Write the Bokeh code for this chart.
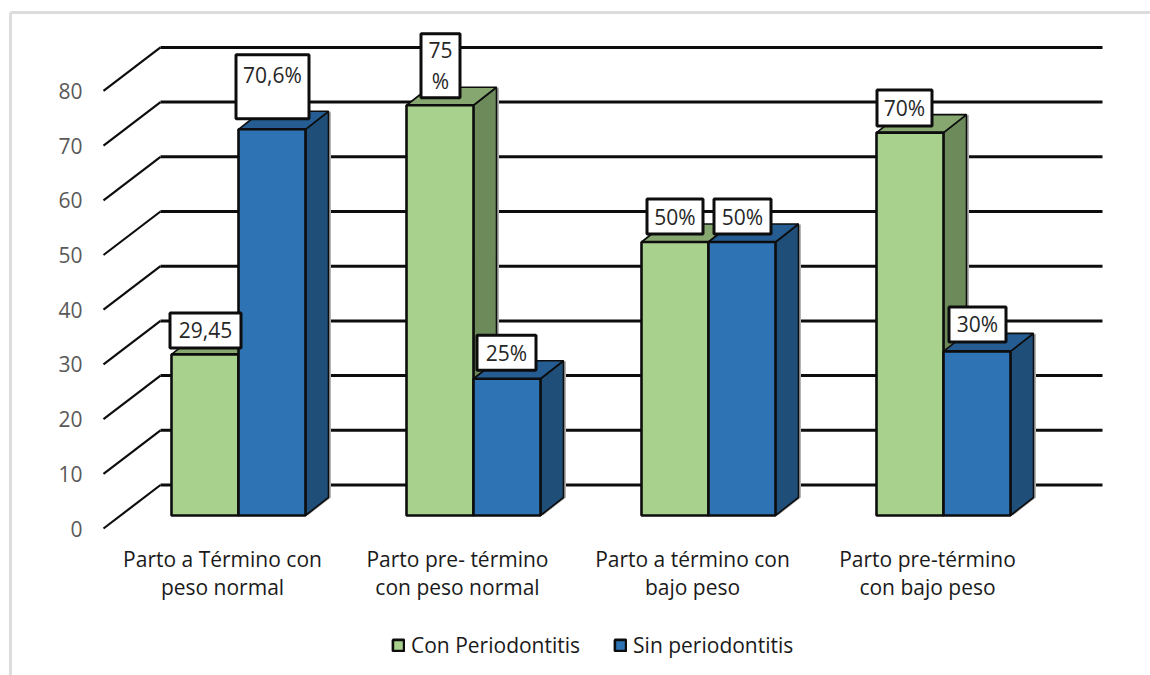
from bokeh.core.properties import value
from bokeh.embed import file_html
from bokeh.models import (ColumnDataSource, FixedTicker, Legend, LegendItem, LinearAxis, Range1d)
from bokeh.plotting import figure
from bokeh.resources import INLINE

# Chart data
categories = ["Parto a Término con\npeso normal",
              "Parto pre- término\ncon peso normal",
              "Parto a término con\nbajo peso",
              "Parto pre-término\ncon bajo peso"]
con_values = [29.45, 75, 50, 70]
sin_values = [70.6, 25, 50, 30]
con_labels = ["29,45", "75\n%", "50%", "70%"]
sin_labels = ["70,6%", "25%", "50%", "30%"]
y_ticks = [0, 10, 20, 30, 40, 50, 60, 70, 80]
series_names = ["Con Periodontitis", "Sin periodontitis"]

# Layout of the page, in pixels
W, H = 1150, 675
GROUP_PX, GROUP0_PX = 235, 238
BASE_PX, UNIT_PX = 515, 5.47
BAR_PX, DEPTH_X_PX, DEPTH_Y_PX = 67, 23, 18
WALL_BASE_PX, TICK_BASE_PX = 484.5, 528
FONT_NAME = "Open Sans"
FONT = value(FONT_NAME)
FONT_SIZE = "21px"
INK = "#0d0d0d"


def xd(px):
    return (px - GROUP0_PX) / GROUP_PX


def yd(px):
    return (BASE_PX - px) / UNIT_PX


p = figure(width=W, height=H, output_backend="svg", toolbar_location=None,
           x_axis_type=None, y_axis_type=None, min_border=0,
           x_range=Range1d(xd(0), xd(W)), y_range=Range1d(yd(H), yd(0)),
           outline_line_color=None, background_fill_color="white")
p.grid.visible = False

# Extra scales for the value labels and the category labels
p.extra_y_ranges = {"tick": Range1d((TICK_BASE_PX - H) / UNIT_PX, TICK_BASE_PX / UNIT_PX)}
p.extra_x_ranges = {"cat": Range1d((0 - 222) / GROUP_PX, (W - 222) / GROUP_PX)}

# Frame around the chart area
p.segment(x0=[xd(10), xd(10)], y0=[yd(12), yd(12)], x1=[xd(W), xd(10)], y1=[yd(12), yd(H)],
          line_color="#dcdcdc", line_width=3)

# Back wall grid lines and the diagonal floor lines leading to the value labels
wall_shift = (BASE_PX - WALL_BASE_PX) / UNIT_PX
tick_shift = (TICK_BASE_PX - BASE_PX) / UNIT_PX
wall_y = [v + wall_shift for v in y_ticks]
n = len(y_ticks)
p.segment(x0=[xd(160)] * n, y0=wall_y, x1=[xd(1102)] * n, y1=wall_y,
          line_color=INK, line_width=3)
p.segment(x0=[xd(103)] * n, y0=[v - tick_shift for v in y_ticks],
          x1=[xd(160)] * n, y1=wall_y, line_color=INK, line_width=2.2)

bar_w = BAR_PX / GROUP_PX
dx = DEPTH_X_PX / GROUP_PX
dy = DEPTH_Y_PX / UNIT_PX
shadow_dx = 2.5 / GROUP_PX


def draw_series(values, offset, front, side, top):
    """Draw one series of pseudo 3D columns: shadow, side and top faces, then the front."""
    xs = [i + offset for i in range(len(values))]
    side_x = [[x + bar_w / 2, x + bar_w / 2 + dx, x + bar_w / 2 + dx, x + bar_w / 2] for x in xs]
    side_y = [[0, dy, v + dy, v] for v in values]
    top_x = [[x - bar_w / 2, x - bar_w / 2 + dx, x + bar_w / 2 + dx, x + bar_w / 2] for x in xs]
    top_y = [[v, v + dy, v + dy, v] for v in values]
    p.patches([[sx + shadow_dx for sx in row] for row in side_x], side_y,
              fill_color="#b4b4b4", line_color=None)
    p.patches(side_x, side_y, fill_color=side, line_color=INK, line_width=1.6)
    p.patches(top_x, top_y, fill_color=top, line_color=INK, line_width=1.6)
    src = ColumnDataSource(dict(x=xs, top=values))
    return p.vbar(x="x", top="top", bottom=0, width=bar_w, source=src, fill_color=front,
                  line_color=INK, line_width=2.6)


green = draw_series(con_values, -bar_w / 2, "#a9d18e", "#6d8a5a", "#87a771")
blue = draw_series(sin_values, bar_w / 2, "#2e74b5", "#1f4e79", "#255c91")

# Data labels: boxed text placed relative to each column's top, sizes in pixels
label_specs = [
    # series value, text, box left, box right, box height, gap above the column top, text shift
    (con_values[0], con_labels[0], 169.5, 240.5, 35, 6.5, 0),
    (sin_values[0], sin_labels[0], 235.5, 308.5, 64, 10.5, -12),
    (con_values[1], con_labels[1], 420.5, 459.5, 64, 7.5, 0),
    (sin_values[1], sin_labels[1], 476.5, 535.5, 35, 8.5, 0),
    (con_values[2], con_labels[2], 646.5, 702.5, 35, 8, 0),
    (sin_values[2], sin_labels[2], 713.5, 770.5, 35, 8, 0),
    (con_values[3], con_labels[3], 876.5, 931.5, 36, 6.5, 0),
    (sin_values[3], sin_labels[3], 948.5, 1005.5, 35, 9.5, 0),
]
for val, txt, left, right, height, gap, shift in label_specs:
    cx = xd((left + right) / 2)
    cy = val + (gap + height / 2) / UNIT_PX
    p.rect(x=[cx], y=[cy], width=[right - left], height=[height], width_units="screen",
           height_units="screen", fill_color="white", line_color=INK, line_width=3)
    p.text(x=[cx], y=[cy + (-shift) / UNIT_PX], text=[txt], text_align="center",
           text_baseline="middle", text_font=FONT, text_font_size=FONT_SIZE, text_color="#262626",
           text_line_height=1.1)

# Value axis and category axis, both drawn inside the frame
y_axis = LinearAxis(y_range_name="tick", fixed_location=xd(88), ticker=FixedTicker(ticks=y_ticks),
                    axis_line_color=None, major_tick_line_color=None, minor_tick_line_color=None,
                    major_label_text_font=FONT_NAME, major_label_text_font_size=FONT_SIZE,
                    major_label_text_color="#595959", major_label_standoff=0)
p.add_layout(y_axis, "left")

x_axis = LinearAxis(x_range_name="cat", fixed_location=yd(538),
                    ticker=FixedTicker(ticks=list(range(len(categories)))),
                    major_label_overrides={i: c for i, c in enumerate(categories)},
                    axis_line_color=None, major_tick_line_color=None, minor_tick_line_color=None,
                    major_label_text_font=FONT_NAME, major_label_text_font_size=FONT_SIZE,
                    major_label_text_color="#1a1a1a", major_label_standoff=0,
                    major_label_text_line_height=1.0)
p.add_layout(x_axis, "below")

legend = Legend(items=[LegendItem(label=series_names[0], renderers=[green]),
                       LegendItem(label=series_names[1], renderers=[blue])],
                orientation="horizontal", location=(391, 16), border_line_color=None,
                background_fill_alpha=0, padding=0, margin=0, spacing=33, glyph_width=14,
                glyph_height=14, label_standoff=6, label_text_font=FONT_NAME,
                label_text_font_size=FONT_SIZE, label_text_color="#1a1a1a")
p.add_layout(legend, "center")

open("out.html", "w").write(file_html(p, INLINE))
